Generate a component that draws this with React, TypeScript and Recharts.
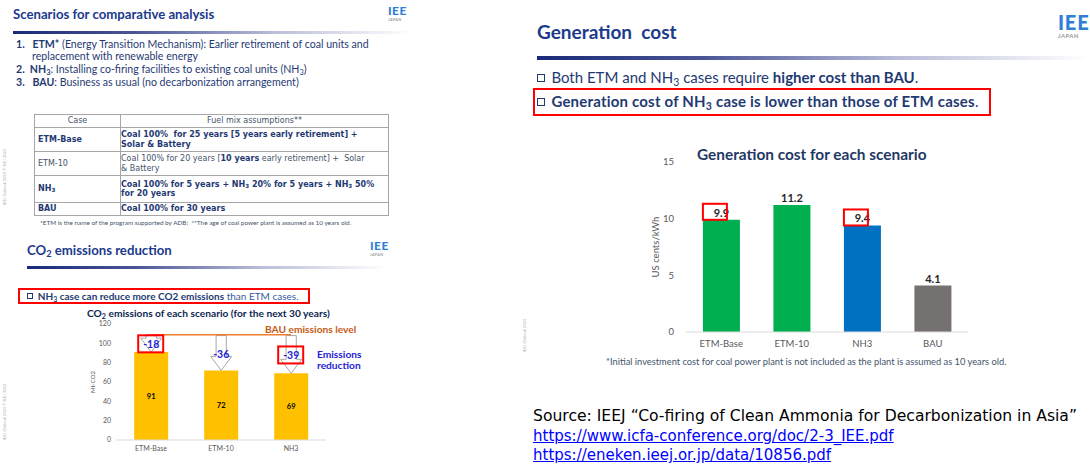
import React from 'react';
import { BarChart, Bar, XAxis, YAxis, LabelList, ReferenceLine, Cell } from 'recharts';

// CO2 emissions chart (left slide)
const co2Cases = ['ETM-Base', 'ETM-10', 'NH3'];
const co2Emissions = [91, 72, 69];
const co2Reduction = [18, 36, 39];
const co2Bau = 109;
const co2Ticks = [0, 20, 40, 60, 80, 100, 120];
const co2Boxed = ['ETM-Base', 'NH3'];

// generation cost chart (right slide)
const costCases = ['ETM-Base', 'ETM-10', 'NH3', 'BAU'];
const costValues = [9.9, 11.2, 9.4, 4.1];
const costTicks = [0, 5, 10, 15];
const costBoxed = ['ETM-Base', 'NH3'];
const costColors = ['#00B050', '#00B050', '#0070C0', '#767171'];

const co2Data = co2Cases.map((name, i) => ({ name, emissions: co2Emissions[i], reduction: co2Reduction[i] }));
const costData = costCases.map((name, i) => ({ name, cost: costValues[i] }));

const navy = '#1B3A8C';
const body = '#1F3A73';
const note = '#44546A';

function T({ x, y, size, children, bold, color, font, style }: any) {
  return (
    <div
      style={{
        position: 'absolute',
        left: x,
        top: y - size / 2,
        fontSize: size,
        lineHeight: `${size}px`,
        whiteSpace: 'nowrap',
        fontWeight: bold ? 700 : 400,
        color: color || body,
        fontFamily: font || 'Lato',
        ...style,
      }}
    >
      {children}
    </div>
  );
}

const Sub = ({ children }: any) => (
  <sub style={{ fontSize: '0.7em', verticalAlign: '-0.25em', lineHeight: 0 }}>{children}</sub>
);

function Box({ x, y, w, h }: any) {
  return (
    <div style={{ position: 'absolute', left: x, top: y, width: w, height: h, border: '2px solid #FF0000', boxSizing: 'border-box' }} />
  );
}

function Rule({ x, y, w, h }: any) {
  return (
    <div
      style={{
        position: 'absolute', left: x, top: y, width: w, height: h,
        background: 'linear-gradient(to right, #1a2a78 0%, #4a5596 30%, #b9bdd8 65%, rgba(255,255,255,0) 100%)',
      }}
    />
  );
}

function Logo({ x, y, s }: any) {
  return (
    <div style={{ position: 'absolute', left: x, top: y, fontFamily: 'Lato', lineHeight: 1 }}>
      <div style={{ fontSize: s, fontWeight: 900, color: '#2F7FD8', letterSpacing: s * 0.04 }}>IEE</div>
      <div style={{ fontSize: s * 0.3, fontWeight: 700, color: '#9a9a9a', letterSpacing: 0.4, marginTop: 1 }}>JAPAN</div>
    </div>
  );
}

function Square({ size }: any) {
  return (
    <span
      style={{
        display: 'inline-block', width: size, height: size, border: `${size > 6 ? 1.5 : 1}px solid ${body}`,
        boxSizing: 'border-box', marginRight: size * 0.8, verticalAlign: 'middle', position: 'relative', top: -1,
      }}
    />
  );
}

function ReductionArrow(props: any) {
  const { x, y, width, height } = props;
  if (!height) return null;
  const cx = x + width / 2;
  const shaft = width * 0.3;
  const head = width * 0.62;
  const headH = Math.min(14, height * 0.8);
  const neck = y + height - headH;
  const pts = [
    [cx - shaft / 2, y], [cx + shaft / 2, y], [cx + shaft / 2, neck], [cx + head / 2, neck],
    [cx, y + height], [cx - head / 2, neck], [cx - shaft / 2, neck],
  ].map((p) => p.join(',')).join(' ');
  return <polygon points={pts} fill="#fff" stroke="#a6a6a6" strokeWidth={1} />;
}

function ReductionLabel(props: any) {
  const vb = props.viewBox || props;
  const { x, y, width, height } = vb;
  const cx = x + width / 2;
  const cy = y + height / 2 + 1;
  const boxed = co2Boxed.includes(co2Cases[props.index]);
  return (
    <g>
      <text x={cx} y={cy + 3.5} textAnchor="middle" fontSize={10.5} fontWeight={700} fill="#2323D6">
        {`-${props.value}`}
      </text>
      {boxed && <rect x={cx - 13} y={cy - 9} width={25} height={17} fill="none" stroke="#FF0000" strokeWidth={2} />}
    </g>
  );
}

function CostLabel(props: any) {
  const vb = props.viewBox || props;
  const { x, y, width } = vb;
  const cx = x + width / 2;
  const boxed = costBoxed.includes(costCases[props.index]);
  return (
    <g>
      <text x={cx} y={y - 3} textAnchor="middle" fontSize={11} fontWeight={700} fill="#262626">
        {props.value}
      </text>
      {boxed && <rect x={x} y={y - 16} width={24} height={16} fill="none" stroke="#FF0000" strokeWidth={2} />}
    </g>
  );
}

function Co2Chart() {
  return (
    <BarChart width={246} height={160} data={co2Data} margin={{ top: 24, right: 0, bottom: 0, left: 0 }} barCategoryGap="26%">
      <XAxis
        dataKey="name" interval={0} height={20} axisLine={{ stroke: '#d9d9d9' }} tickLine={false}
        tickSize={3} tickMargin={3} tick={{ fontSize: 7, fill: '#595959' }}
      />
      <YAxis
        domain={[0, 120]} ticks={co2Ticks} width={36} axisLine={false} tickLine={false}
        tickSize={3} tickMargin={2} tick={{ fontSize: 7, fill: '#595959' }}
        label={{ value: 'Mt-CO2', angle: -90, position: 'insideLeft', offset: 13, style: { textAnchor: 'middle', fontSize: 6, fill: '#595959' } }}
      />
      <Bar dataKey="emissions" stackId="a" fill="#FFC000" isAnimationActive={false}>
        <LabelList dataKey="emissions" position="center" fill="#000" fontSize={7.5} fontWeight={700} />
      </Bar>
      <Bar dataKey="reduction" stackId="a" shape={ReductionArrow} isAnimationActive={false}>
        <LabelList dataKey="reduction" content={ReductionLabel} />
      </Bar>
      <ReferenceLine segment={[{ x: 'ETM-Base', y: co2Bau }, { x: 'NH3', y: co2Bau }]} stroke="#ED7D31" strokeWidth={1.5} />
    </BarChart>
  );
}

function CostChart() {
  return (
    <BarChart width={338} height={202} data={costData} margin={{ top: 12, right: 0, bottom: 0, left: 0 }} barCategoryGap="24%">
      <XAxis
        dataKey="name" interval={0} height={20} axisLine={{ stroke: '#d9d9d9' }} tickLine={false}
        tickSize={4} tickMargin={4} tick={{ fontSize: 9.5, fill: '#595959' }}
      />
      <YAxis
        domain={[0, 15]} ticks={costTicks} width={56} axisLine={false} tickLine={false}
        tickSize={6} tickMargin={6} tick={{ fontSize: 9.5, fill: '#595959' }}
        label={{ value: 'US cents/kWh', angle: -90, position: 'insideLeft', offset: 26, style: { textAnchor: 'middle', fontSize: 9.5, fill: '#595959' } }}
      />
      <Bar dataKey="cost" isAnimationActive={false}>
        {costData.map((d, i) => (
          <Cell key={d.name} fill={costColors[i]} />
        ))}
        <LabelList dataKey="cost" content={CostLabel} />
      </Bar>
    </BarChart>
  );
}

const cell: React.CSSProperties = { border: '1px solid #a6a6a6', padding: '0 0 0 3px', verticalAlign: 'middle', whiteSpace: 'nowrap', overflow: 'visible' };

function Table() {
  return (
    <table
      style={{
        position: 'absolute', left: 34, top: 114, borderCollapse: 'collapse', fontFamily: 'DejaVu Sans',
        fontSize: 8, lineHeight: '9.5px', color: body, tableLayout: 'fixed', width: 352,
      }}
    >
      <tbody>
        <tr style={{ height: 13, color: note }}>
          <td style={{ ...cell, width: 85, textAlign: 'center', padding: 0 }}>Case</td>
          <td style={{ ...cell, width: 267, textAlign: 'center', padding: 0 }}>Fuel mix assumptions**</td>
        </tr>
        <tr style={{ height: 24, fontWeight: 700 }}>
          <td style={cell}>ETM-Base</td>
          <td style={{ ...cell, padding: 0 }}>Coal 100%&nbsp; for 25 years [5 years early retirement] +<br />Solar &amp; Battery</td>
        </tr>
        <tr style={{ height: 24, color: note }}>
          <td style={cell}>ETM-10</td>
          <td style={{ ...cell, padding: 0 }}>
            Coal 100% for 20 years [<b style={{ color: body }}>10 years</b> early retirement] +&nbsp; Solar<br />&amp; Battery
          </td>
        </tr>
        <tr style={{ height: 27, fontWeight: 700 }}>
          <td style={cell}>NH<Sub>3</Sub></td>
          <td style={{ ...cell, padding: 0 }}>Coal 100% for 5 years + NH<Sub>3</Sub> 20% for 5 years + NH<Sub>3</Sub> 50%<br />for 20 years</td>
        </tr>
        <tr style={{ height: 13, fontWeight: 700 }}>
          <td style={cell}>BAU</td>
          <td style={{ ...cell, padding: 0 }}>Coal 100% for 30 years</td>
        </tr>
      </tbody>
    </table>
  );
}

function Vertical({ x, y, text }: any) {
  return (
    <div
      style={{
        position: 'absolute', left: x, top: y, fontSize: 4, color: '#b0b0b0', fontFamily: 'Lato',
        transform: 'rotate(-90deg)', transformOrigin: 'left top', whiteSpace: 'nowrap',
      }}
    >
      {text}
    </div>
  );
}

export default function App() {
  return (
    <div style={{ position: 'absolute', left: 0, top: 0, width: 1090, height: 472, background: '#fff', overflow: 'hidden', fontFamily: 'Lato' }}>
      {/* top-left slide */}
      <T x={13} y={15} size={13.2} bold color={navy}>Scenarios for comparative analysis</T>
      <Logo x={388} y={5} s={12} />
      <Rule x={13} y={31} w={400} h={3} />
      <T x={16} y={44} size={10.6}><b>1.&nbsp;&nbsp; ETM*</b> (Energy Transition Mechanism): Earlier retirement of coal units and</T>
      <T x={32} y={56} size={10.6}>replacement with renewable energy</T>
      <T x={16} y={69} size={10.6}><b>2.&nbsp; NH<Sub>3</Sub></b>: Installing co-firing facilities to existing coal units (NH<Sub>3</Sub>)</T>
      <T x={16} y={82} size={10.6}><b>3.&nbsp;&nbsp; BAU</b>: Business as usual (no decarbonization arrangement)</T>
      <Table />
      <T x={40} y={223} size={6.4} color={note}>
        *ETM is the name of the program supported by ADB;&nbsp; **The age of coal power plant is assumed as 10 years old.
      </T>
      <Vertical x={2} y={205} text="IEEJ Outlook 2023 © IEEJ 2022" />

      {/* bottom-left slide */}
      <T x={27} y={251} size={13.2} bold color={navy}>CO<Sub>2</Sub> emissions reduction</T>
      <Logo x={370} y={240} s={12} />
      <Rule x={27} y={266} w={360} h={3} />
      <Box x={18} y={288} w={292} h={16} />
      <T x={27} y={296} size={10}>
        <Square size={6} /><b>NH<Sub>3</Sub> case can reduce more CO2 emissions</b> <span style={{ color: '#3a5aa0' }}>than ETM cases.</span>
      </T>
      <T x={87} y={313} size={10.2} bold color="#0D1F4F">CO<Sub>2</Sub> emissions of each scenario (for the next 30 years)</T>
      <div style={{ position: 'absolute', left: 80, top: 300 }}>
        <Co2Chart />
      </div>
      <T x={265} y={329} size={10.2} bold color="#C55A11">BAU emissions level</T>
      <T x={317} y={354} size={10.2} bold color="#2323D6">Emissions</T>
      <T x={317} y={365} size={10.2} bold color="#2323D6">reduction</T>
      <Vertical x={2} y={440} text="IEEJ Outlook 2023 © IEEJ 2022" />

      {/* right slide */}
      <T x={537} y={31} size={19} bold color={navy}>Generation&nbsp; cost</T>
      <Logo x={1058} y={12} s={20} />
      <Rule x={537} y={56} w={553} h={4} />
      <T x={537} y={77} size={15}>
        <Square size={8} />Both ETM and NH<Sub>3</Sub> cases require <b>higher cost than BAU</b>.
      </T>
      <Box x={533} y={88} w={458} h={28} />
      <T x={537} y={101} size={15}>
        <Square size={8} /><b style={{ letterSpacing: 0.2 }}>Generation cost of NH<Sub>3</Sub> case is lower than those of ETM cases</b>.
      </T>
      <T x={697} y={155} size={15.4} bold color="#1F3864">Generation cost for each scenario</T>
      <div style={{ position: 'absolute', left: 630, top: 150 }}>
        <CostChart />
      </div>
      <T x={606} y={362} size={9.3} color={note}>
        *Initial investment cost for coal power plant is not included as the plant is assumed as 10 years old.
      </T>
      <Vertical x={522} y={352} text="IEEJ Outlook 2023" />

      {/* source */}
      <div style={{ position: 'absolute', left: 533, top: 407, fontFamily: 'DejaVu Sans', fontSize: 15, lineHeight: '19.5px', color: '#000', whiteSpace: 'nowrap' }}>
        <div style={{ fontSize: 15.6 }}>Source: IEEJ “Co-firing of Clean Ammonia for Decarbonization in Asia”</div>
        <div><a href="https://www.icfa-conference.org/doc/2-3_IEE.pdf" style={{ color: '#0000FF' }}>https://www.icfa-conference.org/doc/2-3_IEE.pdf</a></div>
        <div><a href="https://eneken.ieej.or.jp/data/10856.pdf" style={{ color: '#0000FF' }}>https://eneken.ieej.or.jp/data/10856.pdf</a></div>
      </div>
    </div>
  );
}
